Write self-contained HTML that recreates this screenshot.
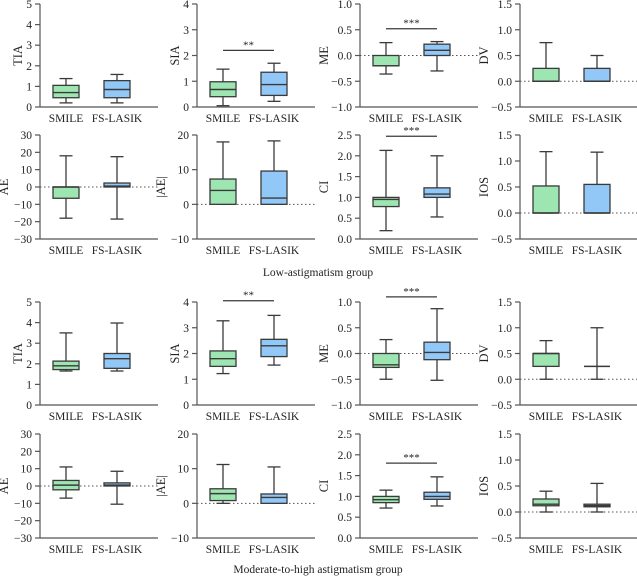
<!DOCTYPE html>
<html><head><meta charset="utf-8"><style>
body{margin:0;background:#fff}
svg{display:block}
svg text{font-family:"Liberation Serif","DejaVu Serif",serif}
</style></head><body>
<svg id="fig" width="637" height="576" font-family="Liberation Serif, serif"></svg>
<script>
const groups = ["SMILE","FS-LASIK"];
const panelNames = ["TIA","SIA","ME","DV","AE","|AE|","CI","IOS"];
const yMin = [0,0,-1,-0.5,-30,-10,0,-0.5];
const yMax = [5,4,1,1.5,30,20,2.5,1.5];
const yStep = [1,1,0.5,0.5,10,10,0.5,0.5];
const yDec = [0,0,1,1,0,0,1,1];
const zeroLine = [false,false,true,true,true,true,false,true];
// [min,q1,median,q3,max] for SMILE / FS-LASIK
const lowSmile = [[0.2,0.45,0.7,1.05,1.38],[0.05,0.4,0.68,0.98,1.47],[-0.36,-0.2,-0.2,0,0.25],[0,0,0,0.25,0.75],[-18,-6.5,0,0,18],[0,0,4,7.3,18],[0.2,0.78,0.95,1.0,2.13],[0,0,0,0.52,1.18]];
const lowLasik = [[0.2,0.45,0.85,1.28,1.58],[0.22,0.45,0.87,1.35,1.7],[-0.3,0,0.1,0.22,0.27],[0,0,0,0.25,0.5],[-18.5,0,0.5,2.3,17.5],[0,0,1.8,9.6,18.3],[0.53,1.0,1.08,1.23,2.0],[0,0,0,0.55,1.17]];
const modSmile = [[1.65,1.72,1.9,2.13,3.5],[1.22,1.5,1.8,2.1,3.27],[-0.5,-0.27,-0.22,0,0.27],[0,0.25,0.5,0.5,0.75],[-7,-2.2,0.5,3.2,11],[0,0.8,2.8,4.2,11.2],[0.72,0.85,0.92,1.0,1.15],[0,0.12,0.15,0.25,0.4]];
const modLasik = [[1.65,1.78,2.25,2.5,3.98],[1.55,1.88,2.3,2.55,3.48],[-0.52,-0.12,0.02,0.22,0.87],[0,0.25,0.25,0.25,1.0],[-10.5,0,0.5,1.8,8.5],[0,0,1.7,2.7,10.5],[0.77,0.93,1.0,1.1,1.47],[0,0.1,0.12,0.15,0.55]];
const lowSig = [null,["**",2.2],["***",0.52],null,null,null,["***",2.47],null];
const modSig = [null,["**",4.05],["***",1.1],null,null,null,["***",1.8],null];
const groupTitles = ["Low-astigmatism group","Moderate-to-high astigmatism group"];

const NS="http://www.w3.org/2000/svg";
const FONT="Liberation Serif, DejaVu Serif, serif";
const svg=document.getElementById('fig');
function mk(tag,attrs,parent){const e=document.createElementNS(NS,tag);for(const k in attrs)e.setAttribute(k,attrs[k]);if(tag==='text')e.setAttribute('font-family',FONT);(parent||svg).appendChild(e);return e;}
const colX=[40,197,360,520];
const rowTop=[4,135,302,434], rowBot=[107,239,405,538];
const fills=["#9ee6b1","#92c8f7"];
const stroke="#3a3a3a";
function drawPanel(idx,row,smile,lasik,sig,prefix){
  const col=idx%4, ax=colX[col], top=rowTop[row], bot=rowBot[row];
  const g=mk('g',{});
  
  
  const y=v=>bot-(v-yMin[idx])/(yMax[idx]-yMin[idx])*(bot-top);
  const xEnd=ax+118;
  if(zeroLine[idx]){const zl=mk('line',{x1:ax,x2:xEnd,y1:y(0),y2:y(0),stroke:'#555','stroke-width':1,'stroke-dasharray':'1.5,2.5'},g);
    }
  const ya=mk('line',{x1:ax,x2:ax,y1:top,y2:bot,stroke:'#555','stroke-width':1.2},g);
  
  const xa=mk('line',{x1:ax,x2:xEnd,y1:bot,y2:bot,stroke:'#555','stroke-width':1.2},g);
  
  const n=Math.round((yMax[idx]-yMin[idx])/yStep[idx]);
  for(let i=0;i<=n;i++){const v=yMin[idx]+i*yStep[idx];const yy=y(v);
    mk('line',{x1:ax-5,x2:ax,y1:yy,y2:yy,stroke:'#555','stroke-width':1.2},g);
    const t=mk('text',{x:ax-8,y:yy+4,'text-anchor':'end','font-size':11.5,fill:'#222'},g);
    t.textContent=(v<0?'\u2212':'')+Math.abs(v).toFixed(yDec[idx]);
    }
  const tl=mk('text',{x:0,y:0,transform:`translate(${ax-18-(yDec[idx]?14:(yMin[idx]<=-10?14:(yMax[idx]>=10?6:0)))},${(top+bot)/2}) rotate(-90)`,'text-anchor':'middle','font-size':12.5,fill:'#222'},g);
  tl.textContent=panelNames[idx];
  
  [smile,lasik].forEach((d,k)=>{
    const cx=ax+26+k*51, w=26;
    const gl=groups[k];
    const wl=mk('line',{x1:cx,x2:cx,y1:y(d[0]),y2:y(d[4]),stroke:stroke,'stroke-width':1.3},g);
    
    [d[0],d[4]].forEach(v=>mk('line',{x1:cx-6.5,x2:cx+6.5,y1:y(v),y2:y(v),stroke:stroke,'stroke-width':1.3},g));
    const bx=mk('rect',{x:cx-w/2,y:y(d[3]),width:w,height:Math.max(0,y(d[1])-y(d[3])),fill:d[3]>d[1]?fills[k]:'none',stroke:stroke,'stroke-width':1.3},g);
    
    mk('line',{x1:cx-w/2,x2:cx+w/2,y1:y(d[2]),y2:y(d[2]),stroke:stroke,'stroke-width':1.4},g);
    const xl=mk('text',{x:cx,y:bot+15,'text-anchor':'middle','font-size':11.5,fill:'#222'},g);
    xl.textContent=gl;
    
  });
  if(sig){const sy=y(sig[1]);
    const sl=mk('line',{x1:ax+26,x2:ax+77,y1:sy,y2:sy,stroke:stroke,'stroke-width':1.2},g);
    
    const st=mk('text',{x:ax+51.5,y:sy-2,'text-anchor':'middle','font-size':11,fill:'#222'},g);
    st.textContent=sig[0];
    }
}
for(let i=0;i<8;i++){drawPanel(i,i<4?0:1,lowSmile[i],lowLasik[i],lowSig[i],'low');}
for(let i=0;i<8;i++){drawPanel(i,i<4?2:3,modSmile[i],modLasik[i],modSig[i],'mod');}
const t1=mk('text',{x:318,y:276,'text-anchor':'middle','font-size':11.5,fill:'#222'});
t1.textContent=groupTitles[0];

const t2=mk('text',{x:318,y:573,'text-anchor':'middle','font-size':11.5,fill:'#222'});
t2.textContent=groupTitles[1];

</script>
</body></html>
